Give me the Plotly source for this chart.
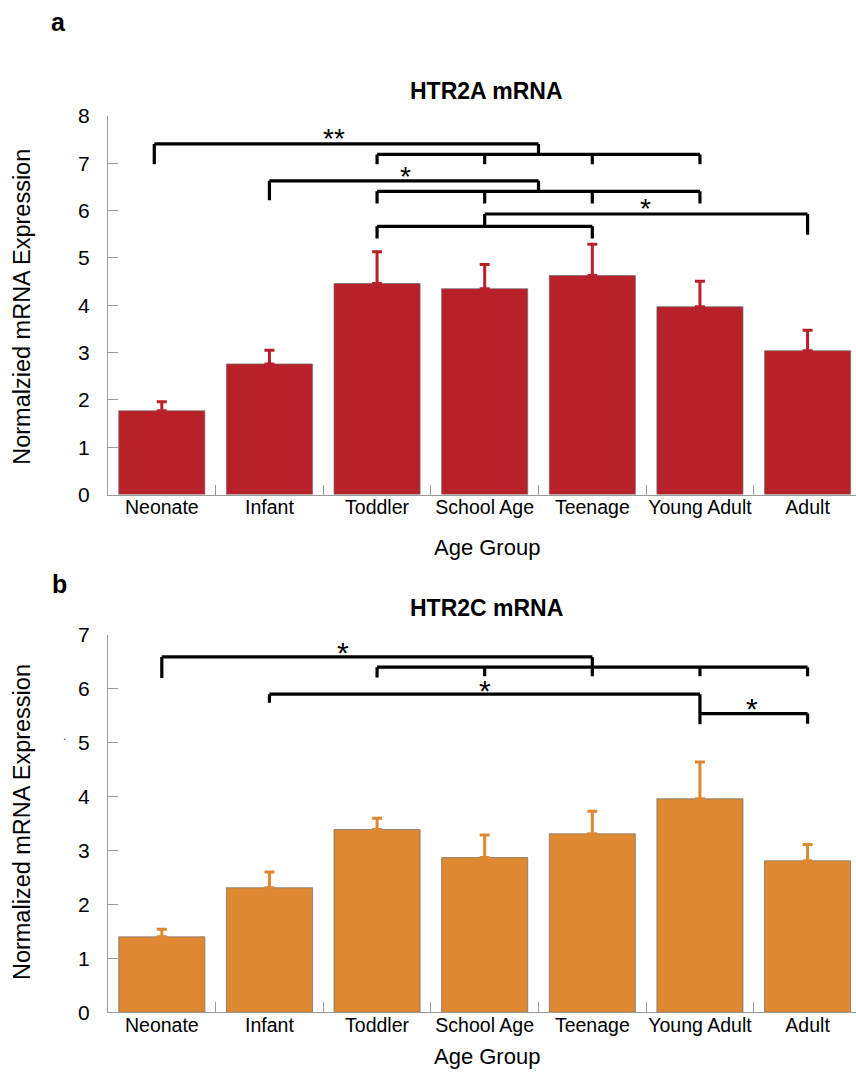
import plotly.graph_objects as go

# ---------------- data ----------------
categories = ["Neonate", "Infant", "Toddler", "School Age", "Teenage", "Young Adult", "Adult"]
htr2a_mean = [1.77, 2.76, 4.46, 4.35, 4.63, 3.97, 3.04]
htr2a_err = [0.19, 0.29, 0.67, 0.51, 0.66, 0.54, 0.43]
htr2c_mean = [1.40, 2.31, 3.39, 2.87, 3.31, 3.96, 2.81]
htr2c_err = [0.14, 0.29, 0.21, 0.42, 0.42, 0.68, 0.30]

# significance brackets: horizontal bar (x0, x1, y) and legs (x, y_bottom)
brackets_a = [
    dict(x0=-0.07, x1=3.5, y=7.41, legs=[(-0.07, 6.98), (3.5, 7.19)]),
    dict(x0=2, x1=5, y=7.19, legs=[(2, 6.98), (3, 6.98), (4, 6.98), (5, 6.98)]),
    dict(x0=1, x1=3.5, y=6.63, legs=[(1, 6.22), (3.5, 6.41)]),
    dict(x0=2, x1=5, y=6.41, legs=[(2, 6.15), (3, 6.15), (4, 6.15), (5, 6.15)]),
    dict(x0=3, x1=6, y=5.93, legs=[(3, 5.67), (6, 5.49)]),
    dict(x0=2, x1=4, y=5.67, legs=[(2, 5.41), (4, 5.41)]),
]
stars_a = [("**", 1.60, 7.59), ("*", 2.265, 6.79), ("*", 4.49, 6.10)]

brackets_c = [
    dict(x0=0, x1=4, y=6.59, legs=[(0, 6.20), (4, 6.40)]),
    dict(x0=2, x1=6, y=6.40, legs=[(2, 6.21), (3, 6.23), (4, 6.23), (5, 6.23), (6, 6.23)]),
    dict(x0=1, x1=5, y=5.90, legs=[(1, 5.74), (5, 5.34)]),
    dict(x0=5, x1=6, y=5.54, legs=[(5, 5.54), (6, 5.35)]),
]
stars_c = [("*", 1.68, 6.73), ("*", 3.0, 6.03), ("*", 5.48, 5.69)]

RED = "rgb(185,33,42)"
ORANGE = "rgb(222,137,50)"
FONT = "Liberation Sans, Arial, sans-serif"
W, H = 856, 1077
L = 108

fig = go.Figure()


def add_bars(mean, err, color, xa, ya):
    fig.add_trace(go.Bar(
        x=list(range(len(categories))), y=mean,
        marker=dict(color=color, line=dict(color="rgba(110,110,110,0.7)", width=1)),
        error_y=dict(type="data", symmetric=False, array=err,
                     arrayminus=[0] * len(err), color=color, thickness=3, width=5),
        xaxis=xa, yaxis=ya, showlegend=False, hoverinfo="skip"))


def add_brackets(brackets, xa, ya):
    xs, ys = [], []
    for b in brackets:
        xs += [b["x0"], b["x1"], None]
        ys += [b["y"], b["y"], None]
        for lx, lb in b["legs"]:
            xs += [lx, lx, None]
            ys += [b["y"], lb, None]
    fig.add_trace(go.Scatter(x=xs, y=ys, mode="lines",
                             line=dict(color="black", width=3.2),
                             xaxis=xa, yaxis=ya, showlegend=False, hoverinfo="skip"))


add_bars(htr2a_mean, htr2a_err, RED, "x", "y")
add_bars(htr2c_mean, htr2c_err, ORANGE, "x2", "y2")
add_brackets(brackets_a, "x", "y")
add_brackets(brackets_c, "x2", "y2")

annotations = []
for txt, sx, sy in stars_a:
    annotations.append(dict(text=txt, x=sx, y=sy, xref="x", yref="y", showarrow=False,
                            yanchor="middle", yshift=-3,
                            font=dict(family=FONT, size=28, color="black")))
for txt, sx, sy in stars_c:
    annotations.append(dict(text=txt, x=sx, y=sy, xref="x2", yref="y2", showarrow=False,
                            yanchor="middle", yshift=-3,
                            font=dict(family=FONT, size=30, color="black")))


def px(x):
    return (x - L) / (W - L)


def py(y):
    # vertical pixel position in the final picture -> paper fraction
    return 1 - ((y - 9.8) / 0.98) / H


# panel labels, titles, axis titles
for txt, x, y, size, bold in [
    ("a", 58, 20, 25, True), ("b", 59, 583, 25, True),
    ("HTR2A mRNA", 486, 89, 23, True), ("HTR2C mRNA", 486, 607, 23, True),
    ("Age Group", 487, 546, 22, False), ("Age Group", 487, 1056, 22, False),
]:
    annotations.append(dict(text=f"<b>{txt}</b>" if bold else txt, x=px(x), y=py(y),
                            xref="paper", yref="paper", showarrow=False,
                            xanchor="center", yanchor="middle",
                            font=dict(family=FONT, size=size, color="black")))
annotations.append(dict(text="Normalzied mRNA Expression", x=px(22), y=py(305), xref="paper",
                        yref="paper", showarrow=False, textangle=-90,
                        xanchor="center", yanchor="middle",
                        font=dict(family=FONT, size=23.5, color="black")))
annotations.append(dict(text="Normalized mRNA Expression", x=px(22), y=py(821), xref="paper",
                        yref="paper", showarrow=False, textangle=-90,
                        xanchor="center", yanchor="middle",
                        font=dict(family=FONT, size=23.5, color="black")))
annotations.append(dict(text=".", x=px(61), y=py(744), xref="paper", yref="paper",
                        showarrow=False, font=dict(family=FONT, size=12, color="#444")))

xaxis_common = dict(
    range=[-0.5, 6.45], tickmode="array", tickvals=list(range(7)), ticktext=categories,
    ticks="inside", ticklen=0, showline=True, linecolor="#9a9a9a", linewidth=1,
    showgrid=False, zeroline=False, fixedrange=True, ticklabelstandoff=-5,
    tickfont=dict(family=FONT, size=19.5, color="black"),
    minor=dict(tickmode="array", tickvals=[i + 0.5 for i in range(-1, 7)], ticks="inside",
               ticklen=10, tickcolor="#9a9a9a", tickwidth=1, showgrid=False),
)
yaxis_common = dict(
    ticks="inside", ticklen=10, tickcolor="#9a9a9a", tickwidth=1,
    showline=True, linecolor="#9a9a9a", linewidth=1, showgrid=False, zeroline=False,
    tickfont=dict(family=FONT, size=21, color="black"), ticklabelstandoff=13, dtick=1,
)

fig.update_layout(
    width=W, height=H, margin=dict(l=L, r=0, t=0, b=0),
    paper_bgcolor="white", plot_bgcolor="white", bargap=0.2,
    font=dict(family=FONT),
    xaxis=dict(**xaxis_common, anchor="y", domain=[0, 1]),
    yaxis=dict(**yaxis_common, range=[0, 8], domain=[py(493), py(114)], anchor="x"),
    xaxis2=dict(**xaxis_common, anchor="y2", domain=[0, 1]),
    yaxis2=dict(**yaxis_common, range=[0, 7], domain=[py(1011.5), py(633.5)], anchor="x2"),
    annotations=annotations,
)

fig.write_html("out.html")
